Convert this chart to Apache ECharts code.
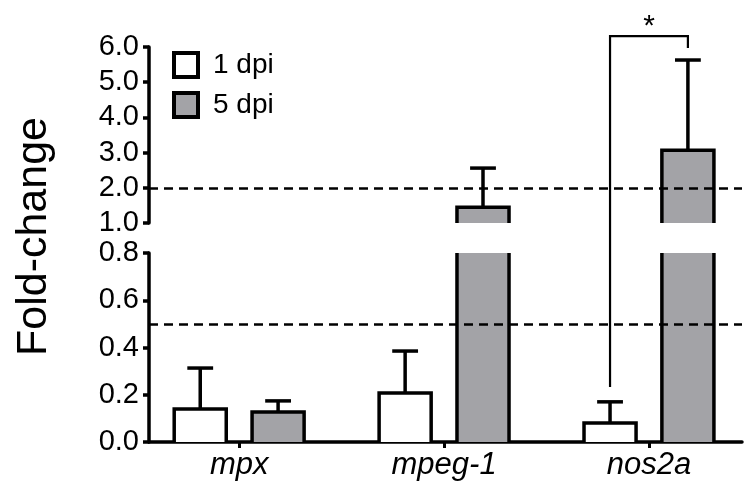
<!DOCTYPE html>
<html><head><meta charset="utf-8">
<script src="https://cdn.jsdelivr.net/npm/echarts@6/dist/echarts.min.js"></script>
<style>html,body{margin:0;padding:0;background:#fff}#c{width:752px;height:495px}</style>
</head><body><div id="c"></div>
<script>
// ---- data ----
const categories = ['mpx', 'mpeg-1', 'nos2a'];
const seriesNames = ['1 dpi', '5 dpi'];
const dpi1Values = [0.14, 0.207, 0.08];
const dpi1Errors = [0.173, 0.178, 0.09];
const dpi5Values = [0.127, 1.45, 3.07];
const dpi5Errors = [0.047, 1.11, 2.56];
const lowerTicks = [0, 0.2, 0.4, 0.6, 0.8];
const upperTicks = [1, 2, 3, 4, 5, 6];
const lowerRefLine = 0.5;
const upperRefLine = 2.0;
const yAxisTitle = 'Fold-change';
// significance bracket: from 1 dpi to 5 dpi of category index 2
const sigCategory = 2;
const sigLeftStart = 0.233;  // lower-axis value where left leg starts
const sigTop = 6.31;         // upper-axis value of bracket top
const sigRightEnd = 5.97;    // upper-axis value where right leg ends
const sigLabel = '*';

// ---- styling ----
const FONT = '"Liberation Sans", Arial, Helvetica, sans-serif';
const GRAY = '#a3a3a7';
const FILLS = ['#ffffff', GRAY];
const OFF = [-0.19, 0.19];
const HALF_W = 0.127;
const HALF_CAP = 0.063;
const LW = 3.5;
const X_MIN = -0.44, X_MAX = 2.454;
const LOWER_MAX = 0.8, UPPER_MIN = 1, UPPER_MAX = 6;

function makeRender(part, gi) {
  return function (params, api) {
    const cx = api.value(0) + OFF[gi];
    const v = api.value(1), e = api.value(2);
    const lo = part === 'lower' ? 0 : UPPER_MIN;
    const hiLim = part === 'lower' ? LOWER_MAX : UPPER_MAX;
    if (part === 'upper' && v <= UPPER_MIN) return null;
    const top = Math.min(v, hiLim);
    const broken = part === 'lower' && v > hiLim;
    const pb = api.coord([cx - HALF_W, lo]);
    const pt = api.coord([cx + HALF_W, top]);
    const xl = pb[0], xr = pt[0], yb = pb[1], yt = pt[1];
    const children = [];
    children.push({ type: 'rect', shape: { x: xl, y: yt, width: xr - xl, height: yb - yt }, style: { fill: FILLS[gi] } });
    const stroke = { stroke: '#000', lineWidth: LW, fill: null, lineJoin: 'miter', lineCap: 'butt' };
    if (broken) {
      children.push({ type: 'line', shape: { x1: xl, y1: yb, x2: xl, y2: yt }, style: stroke });
      children.push({ type: 'line', shape: { x1: xr, y1: yb, x2: xr, y2: yt }, style: stroke });
    } else {
      children.push({ type: 'polyline', shape: { points: [[xl, yb], [xl, yt], [xr, yt], [xr, yb]] }, style: stroke });
      if (v + e <= hiLim) {
        const pe = api.coord([cx, v + e]);
        const pc = api.coord([cx, v]);
        const c1 = api.coord([cx - HALF_CAP, v + e]);
        const c2 = api.coord([cx + HALF_CAP, v + e]);
        children.push({ type: 'line', shape: { x1: pc[0], y1: pc[1], x2: pe[0], y2: pe[1] }, style: stroke });
        children.push({ type: 'line', shape: { x1: c1[0], y1: c1[1], x2: c2[0], y2: c2[1] }, style: stroke });
      }
    }
    return { type: 'group', children: children };
  };
}

function seriesData(vals, errs) {
  return vals.map((v, i) => [i, v, errs[i]]);
}

const chart = echarts.init(document.getElementById('c'));

const yLabel = { fontSize: 29, fontFamily: FONT, color: '#000', margin: 10, formatter: v => v.toFixed(1) };
const axLine = { show: true, onZero: false, lineStyle: { color: '#000', width: LW } };
const axTick = { show: true, length: 6, lineStyle: { color: '#000', width: LW } };

const allData = [[dpi1Values, dpi1Errors], [dpi5Values, dpi5Errors]];
const series = [];
['lower', 'upper'].forEach((part, pi) => {
  seriesNames.forEach((name, gi) => {
    series.push({
      type: 'custom', name: name,
      xAxisIndex: pi, yAxisIndex: pi,
      itemStyle: { color: FILLS[gi], borderColor: '#000' },
      renderItem: makeRender(part, gi),
      encode: { x: 0, y: 1 },
      clip: false,
      data: seriesData(allData[gi][0], allData[gi][1]),
      z: 3
    });
  });
  series.push({
    type: 'line', xAxisIndex: pi, yAxisIndex: pi, data: [], silent: true, z: 5,
    markLine: {
      silent: true, symbol: ['none', 'none'], label: { show: false },
      lineStyle: { color: '#000', width: 2.5, type: [9, 6] },
      data: [{ yAxis: pi === 0 ? lowerRefLine : upperRefLine }]
    }
  });
});

chart.setOption({
  animation: false,
  backgroundColor: '#fff',
  grid: [
    { left: 149, right: 10, top: 253, height: 189 },
    { left: 149, right: 10, top: 47, height: 176 }
  ],
  xAxis: [
    {
      type: 'value', gridIndex: 0, min: X_MIN, max: X_MAX, splitLine: { show: false },
      axisLine: axLine,
      axisTick: { show: true, length: 6, lineStyle: { color: '#000', width: 3 }, customValues: [0, 1, 2] },
      axisLabel: {
        customValues: [0, 1, 2], formatter: v => categories[Math.round(v)] || '',
        fontSize: 31, fontStyle: 'italic', fontFamily: FONT, color: '#000', margin: 8
      }
    },
    { type: 'value', gridIndex: 1, min: X_MIN, max: X_MAX, show: false, splitLine: { show: false } }
  ],
  yAxis: [
    {
      type: 'value', gridIndex: 0, min: lowerTicks[0], max: lowerTicks[lowerTicks.length - 1], interval: 0.2,
      axisLine: axLine, axisTick: axTick, axisLabel: yLabel, splitLine: { show: false }
    },
    {
      type: 'value', gridIndex: 1, min: upperTicks[0], max: upperTicks[upperTicks.length - 1], interval: 1,
      axisLine: axLine, axisTick: axTick, axisLabel: yLabel, splitLine: { show: false }
    }
  ],
  legend: {
    orient: 'vertical', left: 167, top: 46, itemWidth: 24, itemHeight: 24, itemGap: 12,
    selectedMode: false,
    textStyle: { fontSize: 28, fontFamily: FONT, color: '#000', padding: [0, 0, 0, 10], lineHeight: 28 },
    data: seriesNames.map((n, gi) => ({ name: n, icon: 'rect', itemStyle: { color: FILLS[gi], borderColor: '#000', borderWidth: 4 } }))
  },
  series: series
});

// y-axis title and significance bracket (positions from the library's scales)
const pLow = chart.convertToPixel({ gridIndex: 0 }, [sigCategory + OFF[0], sigLeftStart]);
const pTopL = chart.convertToPixel({ gridIndex: 1 }, [sigCategory + OFF[0], sigTop]);
const pTopR = chart.convertToPixel({ gridIndex: 1 }, [sigCategory + OFF[1], sigTop]);
const pEndR = chart.convertToPixel({ gridIndex: 1 }, [sigCategory + OFF[1], sigRightEnd]);
const gTop = chart.convertToPixel({ gridIndex: 1 }, [X_MIN, UPPER_MAX]);
const gBot = chart.convertToPixel({ gridIndex: 0 }, [X_MIN, 0]);

chart.setOption({
  graphic: [
    {
      type: 'polyline', z: 10,
      shape: { points: [pLow, pTopL, pTopR, pEndR] },
      style: { stroke: '#000', lineWidth: 2.2, fill: null }
    },
    {
      type: 'text', z: 10, x: (pTopL[0] + pTopR[0]) / 2, y: pTopL[1] + 6,
      style: { text: sigLabel, fontSize: 30, fontFamily: FONT, fill: '#000', align: 'center', verticalAlign: 'bottom' }
    },
    {
      type: 'text', z: 10, x: 34, y: (gTop[1] + gBot[1]) / 2 - 8, rotation: Math.PI / 2,
      style: { text: yAxisTitle, fontSize: 43, fontFamily: FONT, fill: '#000', align: 'center', verticalAlign: 'middle' }
    }
  ]
});
</script>
</body></html>
